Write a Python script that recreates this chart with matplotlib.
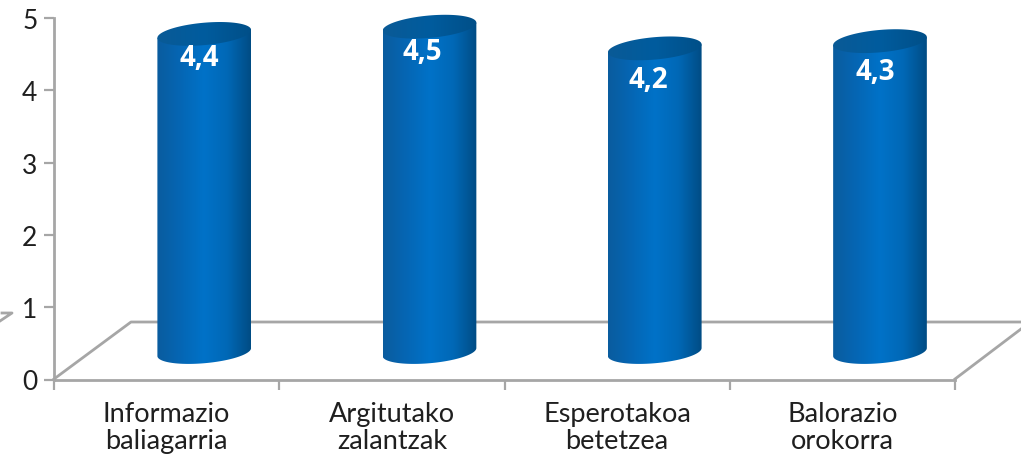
import numpy as np
import matplotlib
matplotlib.use("Agg")
import matplotlib.pyplot as plt
from matplotlib.colors import LinearSegmentedColormap
from matplotlib.lines import Line2D
from matplotlib.patches import Polygon

# data
categories = ["Informazio\nbaliagarria", "Argitutako\nzalantzak", "Esperotakoa\nbetetzea", "Balorazio\norokorra"]
values = [4.4, 4.5, 4.2, 4.3]
value_labels = ["4,4", "4,5", "4,2", "4,3"]
y_ticks = [0, 1, 2, 3, 4, 5]

W, H = 1021, 456
GRAY = "#a6a6a6"
TEXT = "#1f1f1f"

plt.rcParams["font.family"] = ["Lato", "DejaVu Sans"]

fig = plt.figure(figsize=(W / 100, H / 100), dpi=100)
ax = fig.add_axes([54 / W, 1 - 380.5 / H, (955 - 54) / W, (380.5 - 19) / H])
ax.set_xlim(-0.5, 3.5)
ax.set_ylim(0, 5)
ax.patch.set_alpha(0)

# axes
for side in ["top", "right"]:
    ax.spines[side].set_visible(False)
for side in ["left", "bottom"]:
    ax.spines[side].set_color(GRAY)
    ax.spines[side].set_linewidth(2)

ax.set_yticks(y_ticks)
ax.tick_params(axis="y", length=7, width=1.6, color=GRAY, labelsize=19, labelcolor=TEXT, pad=5)
ax.set_xticks(np.arange(-0.5, 4, 1))
ax.set_xticklabels([])
ax.tick_params(axis="x", which="major", length=7, width=1.6, color=GRAY)
ax.set_xticks(np.arange(4), minor=True)
ax.set_xticklabels(categories, minor=True, fontsize=19.5, color=TEXT, linespacing=1.1)
ax.tick_params(axis="x", which="minor", length=0, pad=15.5)


# 3d floor, in pixels of the picture
def floor_line(xs, ys):
    fig.add_artist(Line2D([x / W for x in xs], [1 - y / H for y in ys], color=GRAY, lw=2, zorder=0))


floor_line([54, 131, 1021], [380, 323, 323])
floor_line([955, 1021], [380, 330])
floor_line([0, 12, 2], [322, 314, 314])

# cylinders
body_cmap = LinearSegmentedColormap.from_list("body", ["#0a5c9e", "#0566b4", "#0072c8", "#0068b6", "#004c84"])
top_cmap = LinearSegmentedColormap.from_list("top", ["#0a5a96", "#005c9e", "#004f88"])

x_shift = 0.167   # depth of the 3d bars
y_lift = 0.38
half_w = 0.208
half_h = 0.155
tilt = 0.055
label_dx = [-0.02, -0.03, -0.03, -0.02]
label_drop = [0.33, 0.35, 0.43, 0.42]

t = np.linspace(0, 2 * np.pi, 200)
for i, v in enumerate(values):
    cx = i + x_shift
    top = v + y_lift
    ex = half_w * np.cos(t)
    ey = half_h * np.sin(t) + tilt * np.cos(t)
    extent = [cx - half_w, cx + half_w, y_lift - half_h - tilt, top + half_h + tilt]

    # body outline: lower half of the base ellipse, then back along the top
    low = t[(t >= np.pi) & (t <= 2 * np.pi)]
    up = low[::-1]
    xs = np.r_[cx + half_w * np.cos(low), cx + half_w * np.cos(up)]
    ys = np.r_[y_lift + half_h * np.sin(low) + tilt * np.cos(low), top + tilt * np.cos(up)]
    body = Polygon(np.c_[xs, ys], closed=True, transform=ax.transData, fc="none", ec="none")
    ax.add_patch(body)
    grad = np.linspace(0, 1, 256).reshape(1, -1)
    im = ax.imshow(grad, cmap=body_cmap, extent=extent, aspect="auto", zorder=3)
    im.set_clip_path(body)
    im.set_clip_box(fig.bbox)

    lid = Polygon(np.c_[cx + ex, top + ey], closed=True, transform=ax.transData, fc="none", ec="none")
    ax.add_patch(lid)
    im2 = ax.imshow(grad, cmap=top_cmap, extent=extent, aspect="auto", zorder=4)
    im2.set_clip_path(lid)
    im2.set_clip_box(fig.bbox)

    ax.text(cx + label_dx[i], top - label_drop[i], value_labels[i], color="white", fontsize=20,
            family="Open Sans", fontweight="bold", ha="center", va="center", zorder=5)

ax.set_xlim(-0.5, 3.5)
ax.set_ylim(0, 5)

fig.savefig("out.png", dpi=100)
